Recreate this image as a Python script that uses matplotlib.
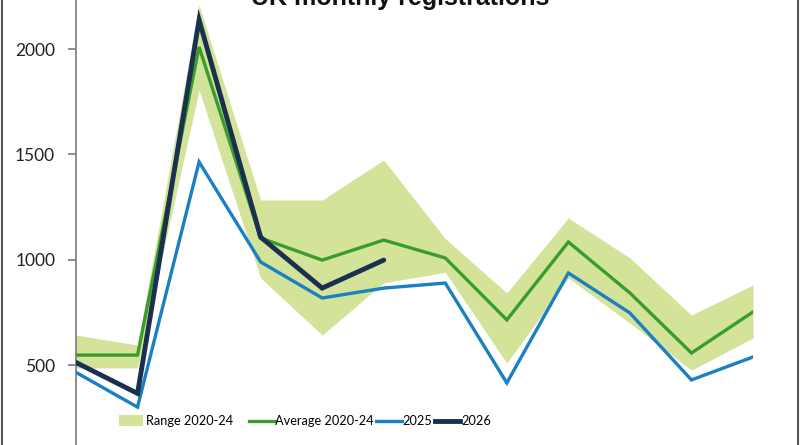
import matplotlib
matplotlib.use("Agg")
import matplotlib.pyplot as plt
from matplotlib.lines import Line2D
from matplotlib.patches import Patch
import numpy as np

months = ["Jan", "Feb", "Mar", "Apr", "May", "Jun", "Jul", "Aug", "Sep", "Oct", "Nov", "Dec"]
range_low = [486, 486, 1805, 913, 642, 890, 940, 509, 913, 699, 476, 628]
range_high = [642, 595, 2209, 1283, 1283, 1473, 1100, 842, 1198, 1008, 737, 880]
average = [547, 547, 2010, 1103, 998, 1093, 1008, 714, 1084, 842, 557, 752]
y2025 = [465, 300, 1464, 989, 818, 865, 889, 415, 937, 747, 429, 538]
y2026 = [512, 365, 2138, 1107, 865, 998]
yticks = [500, 1000, 1500, 2000]
title = "UK monthly registrations"

plt.rcParams['font.family'] = ['Lato', 'DejaVu Sans']

W, H = 800, 445
fig = plt.figure(figsize=(W / 100, H / 100), dpi=100)
left_px, right_px = 76, 753
ax = fig.add_axes([left_px / W, 0, (right_px - left_px) / W, 1])

x = np.arange(len(months))
c_fill = "#d3e39a"
c_avg = "#3b9c2e"
c_25 = "#1b80c2"
c_26 = "#1b2f4e"

ax.fill_between(x, range_low, range_high, color=c_fill, lw=0, zorder=1)
ax.plot(x, average, color=c_avg, lw=2.4, zorder=2, solid_joinstyle='miter')
ax.plot(x, y2025, color=c_25, lw=2.4, zorder=3, solid_joinstyle='miter')
ax.plot(x[:len(y2026)], y2026, color=c_26, lw=3.5, zorder=4, solid_joinstyle='miter',
        solid_capstyle='round')

k = 1500 / 316
ax.set_ylim(2000 - (H - 49) * k, 2000 + 49 * k)
ax.set_xlim(0, len(months) - 1)
ax.set_yticks(yticks)
ax.set_yticklabels([str(v) for v in yticks], fontsize=12.5, color="#222222")
ax.set_xticks([])
for s in ["top", "right", "bottom"]:
    ax.spines[s].set_visible(False)
ax.spines["left"].set_color("#7a7a7a")
ax.spines["left"].set_linewidth(1.2)
ax.tick_params(axis='y', length=6, width=1.2, color="#7a7a7a", pad=9)

fig.text(0.5, 1 - 5 / H, title, ha='center', va='baseline', fontsize=18,
         fontweight='bold', family='Liberation Sans', color="#111111")

leg_font = {'family': ['Lato', 'DejaVu Sans'], 'size': 9.2}
h_range = [Patch(facecolor=c_fill, edgecolor='none', label="Range 2020-24")]
h_lines = [Line2D([], [], color=c_avg, lw=2.4, label="Average 2020-24"),
           Line2D([], [], color=c_25, lw=2.4, label="2025"),
           Line2D([], [], color=c_26, lw=3.5, label="2026")]
fig.legend(handles=h_range, loc='center', bbox_to_anchor=(176 / W, 1 - 421 / H),
           frameon=False, prop=leg_font, handlelength=1.9, handletextpad=0.2,
           handleheight=0.9, borderpad=0)
fig.legend(handles=h_lines, loc='center', bbox_to_anchor=(370 / W, 1 - 421 / H),
           ncol=3, frameon=False, prop=leg_font, handlelength=2.0, handletextpad=0.05,
           columnspacing=0.2, borderpad=0)

fig.add_artist(Line2D([1.5 / W, 1.5 / W], [0, 1], color="#555555", lw=1.5))
fig.add_artist(Line2D([797.5 / W, 797.5 / W], [0, 1], color="#555555", lw=1.5))

fig.savefig("out.png", dpi=100)
